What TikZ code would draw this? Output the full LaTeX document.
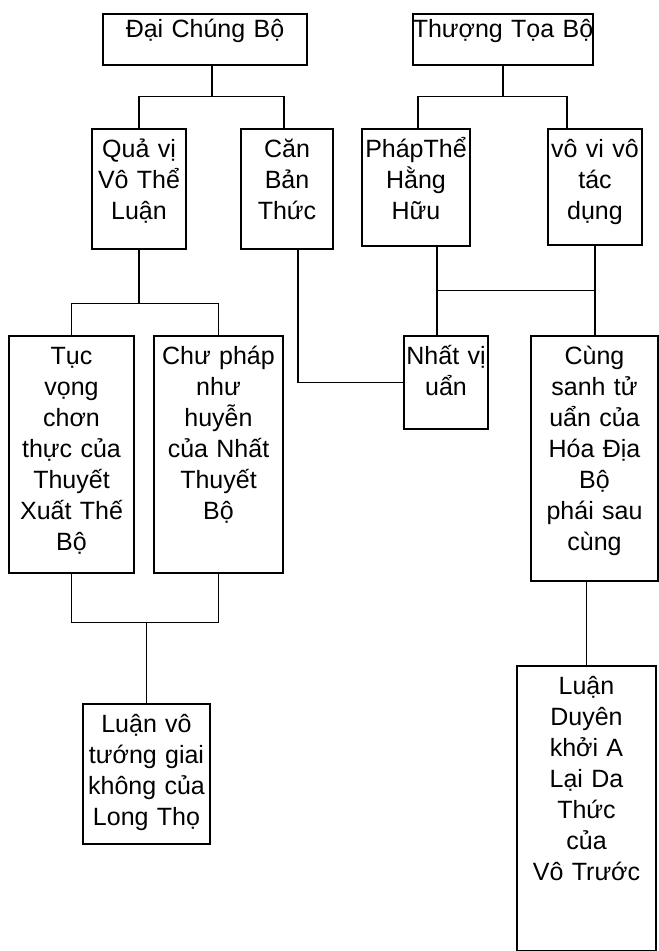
\documentclass[tikz,border=0pt]{standalone}
\usepackage{fontspec}
\setmainfont{Liberation Sans}

\begin{document}
\begin{tikzpicture}[x=1pt,y=1pt,line width=1.5pt,%
    school/.style={draw,anchor=north,align=center,inner ysep=0pt,inner xsep=-10pt,font=\fontsize{25}{31}\selectfont},
    branch/.style={line width=1.5pt}]
  \useasboundingbox (0,0) rectangle (659,-951);

  % name / center x / top / width / height / text
  \foreach \bname/\bx/\btop/\bw/\bh/\btext in {%
     dcb/205/13/204/51/{Đại Chúng Bộ},%
     ttb/503/13/180/51/{Thượng Tọa Bộ},%
     qv/139/128/94/120/{Quả vị\\Vô Thể\\Luận},%
     cbt/287/128/92/120/{Căn\\Bản\\Thức},%
     ptth/416/128/108/117/{PhápThể\\Hằng\\Hữu},%
     vvtd/595/128/94/116/{vô vi vô\\tác\\dụng},%
     tv/71.5/335/125/237/{Tục\\vọng\\chơn\\thực của\\Thuyết\\Xuất Thế\\Bộ},%
     cp/218.5/335/129/237/{Chư pháp\\như\\huyễn\\của Nhất\\Thuyết\\Bộ},%
     nvu/446/335/84/93/{Nhất vị\\uẩn},%
     csth/594.5/335/127/245/{Cùng\\sanh tử\\uẩn của\\Hóa Địa\\Bộ\\phái sau\\cùng},%
     lvt/146.5/703/127/140/{Luận vô\\tướng giai\\không của\\Long Thọ},%
     ldk/586.5/665/139/285/{Luận\\Duyên\\khởi A\\Lại Da\\Thức\\của\\Vô Trước}%
     } { \ifnum\btop<100 \def\lead{24}\else\def\lead{29}\fi
         \pgfmathsetmacro\rest{\bh-\lead}
         \pgfmathsetmacro\tw{\bw+20}
         \node[school,text width=\tw pt,text height=\lead pt,text depth=\rest pt] (\bname) at (\bx,-\btop) {\btext};
       }

  % Dai Chung branch
  \draw[branch] ([xshift=7pt]dcb.south) -- ++(0,-31) -| (qv.north);
  \draw[branch] ([xshift=7pt]dcb.south) -- ++(0,-31) -| ([xshift=-3pt]cbt.north);
  \draw[branch] (qv.south) -- ++(0,-54) -| (tv.north);
  \draw[branch] (qv.south) -- ++(0,-54) -| (cp.north);
  \draw[branch] (tv.south) -- ++(0,-49) coordinate (lj) -| (cp.south);
  \draw[branch] (lvt.north) -- (lvt.north |- lj);
  \draw[branch] ([xshift=11pt]cbt.south) |- (nvu.west);

  % Thuong Toa branch
  \draw[branch] (ttb.south) -- ++(0,-31) -| ([xshift=2pt]ptth.north);
  \draw[branch] (ttb.south) -- ++(0,-31) -| ([xshift=-28pt]vvtd.north);
  \draw[branch] ([xshift=21pt]ptth.south) coordinate (pb) -- (pb |- nvu.north);
  \draw[branch] (vvtd.south) -- (vvtd.south |- csth.north);
  \draw[branch] (pb) ++(0,-44) coordinate (hj) -- (hj -| vvtd.south);
  \draw[branch] (ldk.north) -- (ldk.north |- csth.south);
\end{tikzpicture}
\end{document}
